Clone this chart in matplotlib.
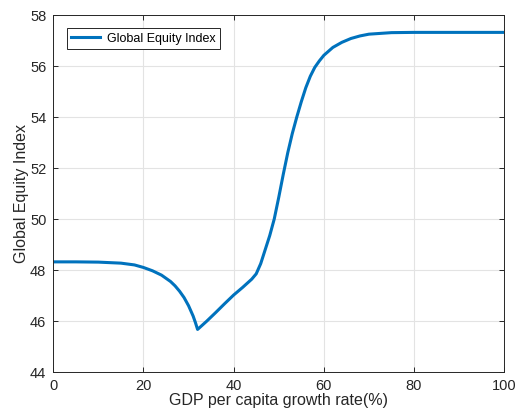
import matplotlib.pyplot as plt

plt.rcParams['font.family'] = ['Liberation Sans', 'DejaVu Sans']

# valores
gdp_growth = [0, 5, 10, 15, 18, 20, 22, 24, 26, 27, 28, 29, 30, 31, 31.5, 32,
              33, 34, 36, 38, 40, 42, 43, 44, 45, 46, 47, 48, 49, 50, 51, 52,
              53, 54, 55, 56, 57, 58, 59, 60, 62, 64, 66, 68, 70, 75, 80, 90, 100]
equity_index = [48.32, 48.32, 48.31, 48.27, 48.2, 48.1, 47.97, 47.8, 47.55, 47.38,
                47.17, 46.92, 46.6, 46.2, 45.95, 45.67, 45.83, 45.99, 46.33, 46.68,
                47.02, 47.32, 47.48, 47.64, 47.85, 48.25, 48.8, 49.35, 50.0, 50.85,
                51.75, 52.6, 53.35, 54.0, 54.6, 55.15, 55.6, 55.95, 56.2, 56.42,
                56.73, 56.93, 57.08, 57.18, 57.25, 57.31, 57.32, 57.32, 57.32]

x_ticks = [0, 20, 40, 60, 80, 100]
y_ticks = [44, 46, 48, 50, 52, 54, 56, 58]

fig = plt.figure(figsize=(5.15, 4.18), dpi=100)
ax = fig.add_axes([0.1035, 0.110, 0.8755, 0.854])

ax.plot(gdp_growth, equity_index, color='#0072BD', linewidth=2.2,
        label='Global Equity Index')

ax.set_xlim(0, 100)
ax.set_ylim(44, 58)
ax.set_xticks(x_ticks)
ax.set_yticks(y_ticks)
ax.grid(True, color='#e3e3e3', linewidth=0.8)
ax.set_axisbelow(True)

ax.tick_params(direction='in', top=True, right=True, length=3.5, width=0.7,
               colors='#262626', labelsize=10.5, pad=5)
for s in ax.spines.values():
    s.set_color('#262626')
    s.set_linewidth(0.7)

ax.set_xlabel('GDP per capita growth rate(%)', fontsize=11.5, color='#262626', labelpad=0)
ax.set_ylabel('Global Equity Index', fontsize=11.5, color='#262626', labelpad=1)

leg = ax.legend(loc='upper left', bbox_to_anchor=(0.03, 0.963), borderaxespad=0,
                fontsize=9, handlelength=2.3, handletextpad=0.6, fancybox=False,
                framealpha=1, edgecolor='#262626', borderpad=0.35)
leg.get_frame().set_linewidth(0.7)

plt.savefig('out.png', dpi=100)
